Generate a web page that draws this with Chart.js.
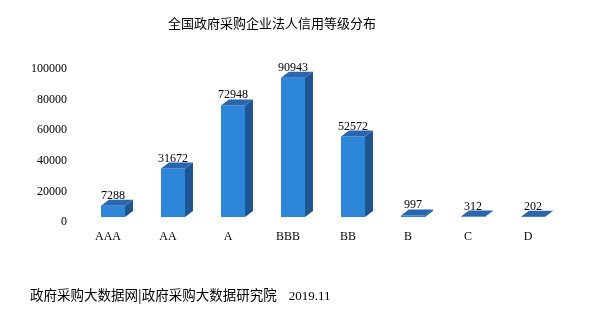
<!DOCTYPE html>
<html>
<head>
<meta charset="utf-8">
<script src="https://cdn.jsdelivr.net/npm/chart.js@4"></script>
<style>
  body { margin:0; background:#fff; }
  #wrap { position:relative; width:589px; height:329px; }
  #title { position:absolute; left:0; width:544px; top:13px; text-align:center; font:13px "Noto Sans CJK SC"; color:#000; }
  #foot { position:absolute; left:30px; top:284px; font:13.5px "Noto Sans CJK SC"; color:#000; white-space:pre; }
  #foot span { font:13px "Liberation Serif"; margin-left:12px; }
</style>
</head>
<body>
<div id="wrap">
  <canvas id="c" width="589" height="329"></canvas>
  <div id="title">全国政府采购企业法人信用等级分布</div>
  <div id="foot">政府采购大数据网|政府采购大数据研究院<span>2019.11</span></div>
</div>
<script>
// --- Data ---
const grades = ["AAA", "AA", "A", "BBB", "BB", "B", "C", "D"];
const counts = [7288, 31672, 72948, 90943, 52572, 997, 312, 202];
const yTicks = [0, 20000, 40000, 60000, 80000, 100000];

// --- 3D faces + value labels ---
const bar3d = {
  id: 'bar3d',
  afterDatasetsDraw(chart){
    const ctx = chart.ctx;
    const dx = 8, dy = 6;
    chart.getDatasetMeta(0).data.forEach((b,i)=>{
      const xl = b.x - b.width/2, xr = b.x + b.width/2, top = b.y, base = b.base;
      // side
      ctx.fillStyle = '#1f5591';
      ctx.beginPath();
      ctx.moveTo(xr, top); ctx.lineTo(xr+dx, top-dy); ctx.lineTo(xr+dx, base-dy); ctx.lineTo(xr, base);
      ctx.closePath(); ctx.fill();
      // top
      ctx.fillStyle = '#2966ad';
      ctx.beginPath();
      ctx.moveTo(xl, top); ctx.lineTo(xr, top); ctx.lineTo(xr+dx, top-dy); ctx.lineTo(xl+dx, top-dy);
      ctx.closePath(); ctx.fill();
      // value
      ctx.fillStyle = '#000';
      ctx.font = '12px "Liberation Serif"';
      ctx.textAlign = 'center';
      ctx.textBaseline = 'alphabetic';
      ctx.fillText(String(counts[i]), b.x, top - dy - 1);
    });
  }
};

new Chart(document.getElementById('c').getContext('2d'), {
  type: 'bar',
  data: {
    labels: grades,
    datasets: [{ data: counts, backgroundColor: '#2e86da', borderWidth: 0, barPercentage: 0.4, categoryPercentage: 1 }]
  },
  options: {
    responsive: false,
    animation: false,
    layout: { padding: { left: 0, right: 26, top: 64, bottom: 0 } },
    plugins: { legend: { display: false }, tooltip: { enabled: false } },
    scales: {
      x: {
        grid: { display: false, drawTicks: false },
        border: { display: false },
        afterFit: s => { s.height = 112; },
        ticks: { color: '#000', font: { family: 'Liberation Serif', size: 12 }, padding: 13, labelOffset: -5, maxRotation: 0 }
      },
      y: {
        min: 0, max: 100000,
        grid: { display: false, drawTicks: false },
        border: { display: false },
        afterFit: s => { s.width = 83; },
        afterBuildTicks: s => { s.ticks = yTicks.map(v => ({ value: v })); },
        ticks: { color: '#000', font: { family: 'Liberation Serif', size: 12 }, padding: 16, labelOffset: 5, callback: v => String(v) }
      }
    }
  },
  plugins: [bar3d]
});
</script>
</body>
</html>
